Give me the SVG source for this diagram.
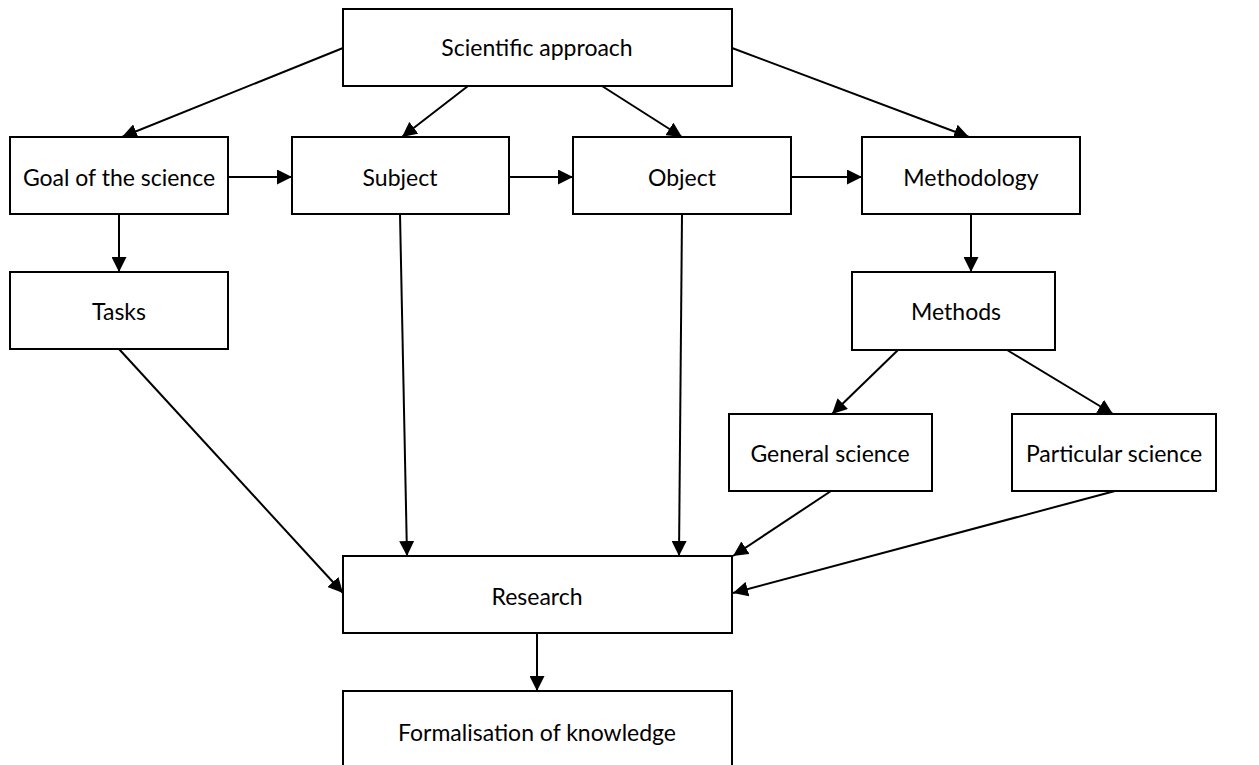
<svg xmlns="http://www.w3.org/2000/svg" width="1259" height="765" viewBox="0 0 1259 765">
<style>
.box{fill:#fff;stroke:#000;stroke-width:2}
.lbl{font-family:Lato,"Open Sans",sans-serif;font-size:23px;fill:#000;text-anchor:middle;dominant-baseline:central}
.con line{stroke:#000;stroke-width:2;marker-end:url(#ah)}
</style>
<defs>
<marker id="ah" markerUnits="userSpaceOnUse" markerWidth="16" markerHeight="15" refX="15" refY="7.5" orient="auto">
<path d="M0,0 L15,7.5 L0,15 z" fill="#000"/>
</marker>
</defs>
<rect width="1259" height="765" fill="#fff"/>
<g class="con">
<line x1="343" y1="48" x2="122" y2="137"/>
<line x1="468" y1="86" x2="402" y2="137"/>
<line x1="602" y1="86" x2="682" y2="137"/>
<line x1="732" y1="48" x2="969" y2="137"/>
<line x1="228" y1="177" x2="292" y2="177"/>
<line x1="509" y1="177" x2="573" y2="177"/>
<line x1="791" y1="177" x2="862" y2="177"/>
<line x1="119" y1="214" x2="119" y2="272"/>
<line x1="971" y1="214" x2="971" y2="272"/>
<line x1="119" y1="349" x2="343" y2="593"/>
<line x1="400" y1="214" x2="407" y2="556"/>
<line x1="682" y1="214" x2="679" y2="556"/>
<line x1="898" y1="350" x2="832" y2="414"/>
<line x1="1007" y1="350" x2="1113" y2="414"/>
<line x1="831" y1="491" x2="733" y2="556"/>
<line x1="1115" y1="491" x2="733" y2="593"/>
<line x1="537" y1="633" x2="537" y2="691"/>
</g>
<g id="scientific-approach"><rect class="box" x="343" y="9" width="389" height="77"/><text class="lbl" x="537" y="47">Scientific approach</text></g>
<g id="goal"><rect class="box" x="10" y="137" width="218" height="77"/><text class="lbl" x="119" y="177">Goal of the science</text></g>
<g id="subject"><rect class="box" x="292" y="137" width="217" height="77"/><text class="lbl" x="400" y="177">Subject</text></g>
<g id="object"><rect class="box" x="573" y="137" width="218" height="77"/><text class="lbl" x="682" y="177">Object</text></g>
<g id="methodology"><rect class="box" x="862" y="137" width="218" height="77"/><text class="lbl" x="971" y="177">Methodology</text></g>
<g id="tasks"><rect class="box" x="10" y="272" width="218" height="77"/><text class="lbl" x="119" y="311">Tasks</text></g>
<g id="methods"><rect class="box" x="852" y="272" width="203" height="78"/><text class="lbl" x="956" y="311">Methods</text></g>
<g id="general-science"><rect class="box" x="729" y="414" width="203" height="77"/><text class="lbl" x="830" y="453">General science</text></g>
<g id="particular-science"><rect class="box" x="1012" y="414" width="204" height="77"/><text class="lbl" x="1114" y="453">Particular science</text></g>
<g id="research"><rect class="box" x="343" y="556" width="389" height="77"/><text class="lbl" x="537" y="596">Research</text></g>
<g id="formalisation"><rect class="box" x="343" y="691" width="389" height="80"/><text class="lbl" x="537" y="732">Formalisation of knowledge</text></g>
</svg>
